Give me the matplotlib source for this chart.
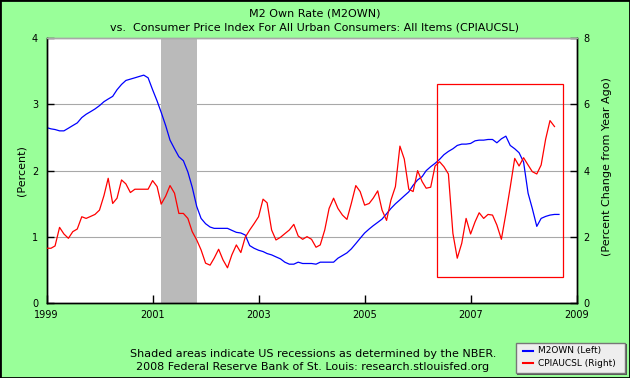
import matplotlib
matplotlib.use('Agg')
import matplotlib.pyplot as plt
import matplotlib.dates as mdates
import pandas as pd
from matplotlib.patches import Rectangle
from matplotlib.lines import Line2D

# ---------------- data ----------------
m2own = [
    2.65, 2.63, 2.62, 2.60, 2.60, 2.64, 2.68, 2.72, 2.80, 2.85, 2.89, 2.93,   # 1999
    2.98, 3.04, 3.08, 3.12, 3.22, 3.30, 3.36, 3.38, 3.40, 3.42, 3.44, 3.40,   # 2000
    3.22, 3.05, 2.88, 2.68, 2.46, 2.33, 2.21, 2.15, 1.98, 1.75, 1.46, 1.28,   # 2001
    1.20, 1.15, 1.13, 1.13, 1.13, 1.13, 1.10, 1.07, 1.06, 1.03, 0.87, 0.83,   # 2002
    0.80, 0.78, 0.75, 0.73, 0.70, 0.67, 0.62, 0.59, 0.59, 0.62, 0.60, 0.60,   # 2003
    0.60, 0.59, 0.62, 0.62, 0.62, 0.62, 0.68, 0.72, 0.76, 0.82, 0.90, 0.98,   # 2004
    1.06, 1.12, 1.17, 1.22, 1.27, 1.35, 1.43, 1.50, 1.56, 1.62, 1.68, 1.78,   # 2005
    1.86, 1.91, 2.00, 2.06, 2.11, 2.17, 2.24, 2.29, 2.33, 2.38, 2.40, 2.40,   # 2006
    2.41, 2.45, 2.46, 2.46, 2.47, 2.47, 2.42, 2.48, 2.52, 2.38, 2.33, 2.27,   # 2007
    2.13, 1.66, 1.43, 1.16, 1.28, 1.31, 1.33, 1.34, 1.34,                     # 2008
]
cpi_yoy = [
    1.66, 1.66, 1.73, 2.29, 2.09, 1.96, 2.16, 2.24, 2.61, 2.56, 2.62, 2.68,   # 1999
    2.81, 3.25, 3.77, 3.01, 3.17, 3.72, 3.60, 3.34, 3.44, 3.44, 3.44, 3.44,   # 2000
    3.70, 3.52, 2.99, 3.23, 3.55, 3.32, 2.71, 2.71, 2.56, 2.16, 1.91, 1.61,   # 2001
    1.21, 1.15, 1.36, 1.63, 1.31, 1.07, 1.46, 1.76, 1.53, 1.99, 2.21, 2.40,   # 2002
    2.61, 3.14, 3.03, 2.21, 1.91, 1.99, 2.10, 2.21, 2.38, 2.03, 1.93, 2.01,   # 2003
    1.93, 1.69, 1.76, 2.21, 2.86, 3.17, 2.86, 2.66, 2.53, 3.01, 3.55, 3.37,   # 2004
    2.96, 3.01, 3.17, 3.39, 2.81, 2.50, 3.11, 3.52, 4.74, 4.35, 3.44, 3.37,   # 2005
    4.00, 3.67, 3.47, 3.50, 4.14, 4.27, 4.12, 3.90, 2.11, 1.36, 1.81, 2.56,   # 2006
    2.09, 2.46, 2.73, 2.56, 2.68, 2.66, 2.36, 1.93, 2.70, 3.50, 4.37, 4.14,   # 2007
    4.39, 4.17, 3.97, 3.90, 4.17, 4.95, 5.51, 5.33,                           # 2008
]
start_month = '1999-01-01'
recession_start = '2001-03-01'
recession_end = '2001-11-01'
x_range = ('1999-01-01', '2009-01-01')
x_tick_years = [1999, 2001, 2003, 2005, 2007, 2009]
left_ticks = [0, 1, 2, 3, 4]
right_ticks = [0, 2, 4, 6, 8]
# highlight box (left-axis units)
box_x = ('2006-05-12', '2008-09-27')
box_y = (0.39, 3.31)

title1 = 'M2 Own Rate (M2OWN)'
title2 = 'vs.  Consumer Price Index For All Urban Consumers: All Items (CPIAUCSL)'
note1 = 'Shaded areas indicate US recessions as determined by the NBER.'
note2 = '2008 Federal Reserve Bank of St. Louis: research.stlouisfed.org'
legend_labels = ['M2OWN (Left)', 'CPIAUCSL (Right)']

m2_dates = pd.date_range(start_month, periods=len(m2own), freq='MS')
cpi_dates = pd.date_range(start_month, periods=len(cpi_yoy), freq='MS')

# ---------------- figure ----------------
W, H = 630, 378
BG = '#99ff99'
plt.rcParams['font.family'] = ['DejaVu Sans']
fig = plt.figure(figsize=(W / 100, H / 100), dpi=100, facecolor=BG)

L, R, T, B = 46.5, 576.7, 38.0, 303.3
ax = fig.add_axes([L / W, 1 - B / H, (R - L) / W, (B - T) / H])
ax.set_facecolor('white')
ax2 = ax.twinx()

ax.axvspan(pd.Timestamp(recession_start), pd.Timestamp(recession_end),
           color='#bababa', lw=0, zorder=1)
for v in left_ticks[1:-1]:
    ax.axhline(v, color='#a8a8a8', lw=0.8, zorder=0.5)

ax2.plot(cpi_dates, cpi_yoy, color='#ff0000', lw=0.9, zorder=3)
ax.plot(m2_dates, m2own, color='#0000ff', lw=0.9, zorder=3)

ax.add_patch(Rectangle((mdates.date2num(pd.Timestamp(box_x[0])), box_y[0]),
                       mdates.date2num(pd.Timestamp(box_x[1])) - mdates.date2num(pd.Timestamp(box_x[0])),
                       box_y[1] - box_y[0], fill=False, edgecolor='#ff0000', lw=0.9, zorder=4))

ax.set_xlim(pd.Timestamp(x_range[0]), pd.Timestamp(x_range[1]))
ax.set_ylim(left_ticks[0], left_ticks[-1])
ax2.set_ylim(right_ticks[0], right_ticks[-1])

ax.set_xticks([pd.Timestamp(f'{y}-01-01') for y in x_tick_years])
ax.set_xticklabels([str(y) for y in x_tick_years])
ax.set_yticks(left_ticks)
ax2.set_yticks(right_ticks)

ax.tick_params(axis='x', direction='in', length=6, width=1, labelsize=7, pad=5, colors='black')
ax.tick_params(axis='y', direction='in', length=5, width=1, labelsize=7, pad=6)
ax2.tick_params(axis='y', direction='in', length=5, width=1, labelsize=7, pad=5)

for a in (ax, ax2):
    for s in ('left', 'right', 'bottom'):
        a.spines[s].set_color('black')
        a.spines[s].set_linewidth(1.0)
    a.spines['top'].set_color('#a8a8a8')
    a.spines['top'].set_linewidth(1.0)

fig.text(21.7 / W, 1 - 170.5 / H, '(Percent)', rotation=90, ha='center', va='center', fontsize=8)
fig.text(606.5 / W, 1 - 167 / H, '(Percent Change from Year Ago)', rotation=90,
         ha='center', va='center', fontsize=8)

fig.text(315 / W, 1 - 13.5 / H, title1, ha='center', va='center', fontsize=8)
fig.text(315 / W, 1 - 27 / H, title2, ha='center', va='center', fontsize=8)
fig.text(313 / W, 1 - 354 / H, note1, ha='center', va='center', fontsize=8)
fig.text(313 / W, 1 - 367 / H, note2, ha='center', va='center', fontsize=8)

# legend
lx0, ly0, lx1, ly1 = 515.7, 342.7, 625.0, 373.3
fig.patches.append(Rectangle((lx0 / W + 1.5 / W, 1 - ly1 / H - 1.5 / H), (lx1 - lx0) / W, (ly1 - ly0) / H,
                             transform=fig.transFigure, facecolor='#555555', edgecolor='none', zorder=5))
fig.patches.append(Rectangle((lx0 / W, 1 - ly1 / H), (lx1 - lx0) / W, (ly1 - ly0) / H,
                             transform=fig.transFigure, facecolor='#eeeeee', edgecolor='#777777', lw=1.0, zorder=6))
for i, (lab, col) in enumerate(zip(legend_labels, ['#0000ff', '#ff0000'])):
    yy = 1 - (350.5 + i * 12.7) / H
    fig.lines.append(Line2D([523 / W, 533 / W], [yy, yy], transform=fig.transFigure,
                            color=col, lw=1.5, zorder=7))
    fig.text(538 / W, yy, lab, ha='left', va='center', fontsize=6.5, zorder=7)

# outer border
fig.patches.append(Rectangle((0, 0), 1, 1, transform=fig.transFigure, fill=False,
                             edgecolor='black', lw=2.0, zorder=10))

fig.savefig('out.png', dpi=100, facecolor=BG)
